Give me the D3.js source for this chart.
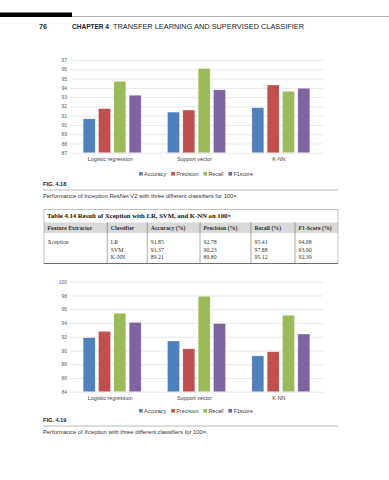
<!DOCTYPE html>
<html>
<head>
<meta charset="utf-8">
<script src="https://cdn.jsdelivr.net/npm/d3@7"></script>
<style>
  body { margin: 0; background: #fff; }
  svg { display: block; }
</style>
</head>
<body>
<div class="main"></div>
<script>
const categories = ["Logistic regression", "Support vector", "K-NN"]
const metrics = ["Accuracy", "Precision", "Recall", "F1score"]
const colors = ["#4f81bd", "#c0504d", "#9bbb59", "#8064a2"]

// Fig 4.18 - Inception ResNet V2
const inceptionValues = [
    [90.65, 91.75, 94.68, 93.2],
    [91.38, 91.6, 96.08, 93.78],
    [91.85, 94.3, 93.62, 93.95]
]
const inceptionTicks = [87, 88, 89, 90, 91, 92, 93, 94, 95, 96, 97]

// Table 4.14 / Fig 4.19 - Xception
const tableClassifiers = ["LR", "SVM", "K-NN"]
const tableHeaders = ["Feature Extractor", "Classifier", "Accuracy (%)", "Precision (%)", "Recall (%)", "F1-Score (%)"]
const xceptionValues = [
    [91.85, 92.78, 95.41, 94.08],
    [91.37, 90.23, 97.88, 93.90],
    [89.21, 89.80, 95.12, 92.39]
]
const xceptionTicks = [84, 86, 88, 90, 92, 94, 96, 98, 100]

const W = 389, H = 480
const svg = d3.select(".main").append("svg")
    .attr("width", W).attr("height", H)

const sans = "'Liberation Sans', Arial, sans-serif"
const serif = "'Liberation Serif', 'Times New Roman', serif"

// page header
svg.append("rect").attr("x", 0).attr("y", 12.5).attr("width", 72).attr("height", 4.5).attr("fill", "#000")
svg.append("line").attr("x1", 72).attr("x2", W).attr("y1", 16.5).attr("y2", 16.5)
    .attr("stroke", "#8c8c8c").attr("stroke-width", 0.7)
svg.append("text").attr("x", 39).attr("y", 28.5).attr("font-family", sans).attr("font-size", 7.4)
    .attr("font-weight", "bold").attr("fill", "#222").text("76")
svg.append("text").attr("x", 72).attr("y", 28.5).attr("font-family", sans).attr("font-size", 7.4)
    .attr("font-weight", "bold").attr("fill", "#222").attr("textLength", 37).attr("lengthAdjust", "spacingAndGlyphs")
    .text("CHAPTER 4")
svg.append("text").attr("x", 113).attr("y", 28.5).attr("font-family", sans).attr("font-size", 7.4)
    .attr("fill", "#222").attr("textLength", 191).attr("lengthAdjust", "spacingAndGlyphs")
    .text("TRANSFER LEARNING AND SUPERVISED CLASSIFIER")

function barChart(values, ticks, top, bottom, catY, legendY) {
    const g = svg.append("g")
    const y = d3.scaleLinear().domain([ticks[0], ticks[ticks.length - 1]]).range([bottom, top])
    const x0 = d3.scaleBand().domain(categories).range([70, 323]).padding(0)
    const x1 = d3.scaleBand().domain(metrics).range([0, x0.bandwidth()])
        .paddingInner(0.22).paddingOuter(0.86)

    const axis = g.append("g").attr("transform", "translate(70,0)")
        .call(d3.axisLeft(y).tickValues(ticks).tickSize(-253).tickPadding(3))
    axis.select(".domain").remove()
    axis.selectAll(".tick line").attr("stroke", "#d9d9d9").attr("stroke-width", 0.6)
    axis.selectAll(".tick text").attr("font-family", sans).attr("font-size", 5).attr("fill", "#595959")

    g.selectAll(".grp").data(values).join("g")
        .attr("transform", (d, i) => `translate(${x0(categories[i])},0)`)
        .selectAll("rect").data(d => d).join("rect")
        .attr("x", (d, j) => x1(metrics[j]))
        .attr("width", x1.bandwidth())
        .attr("y", d => y(d))
        .attr("height", d => y(ticks[0]) - y(d))
        .attr("fill", (d, j) => colors[j])
        .attr("stroke", "#fff").attr("stroke-opacity", 0.5).attr("stroke-width", 0.5)

    g.selectAll(".cat").data(categories).join("text")
        .attr("x", d => x0(d) + x0.bandwidth() / 2 - 2)
        .attr("y", catY).attr("text-anchor", "middle")
        .attr("font-family", sans).attr("font-size", 5.4).attr("fill", "#404040")
        .text(d => d)

    // legend
    const lg = g.append("g")
    let lx = 0
    metrics.forEach((m, i) => {
        lg.append("rect").attr("x", lx).attr("y", legendY - 2).attr("width", 3.6).attr("height", 3.6).attr("fill", colors[i])
        const t = lg.append("text").attr("x", lx + 5).attr("y", legendY + 1.8)
            .attr("font-family", sans).attr("font-size", 5.4).attr("fill", "#404040").text(m)
        lx += 5 + t.node().getComputedTextLength() + 5
    })
    lg.attr("transform", `translate(${196 - (lx - 5) / 2},0)`)
}

function figCaption(label, text, yLabel) {
    svg.append("text").attr("x", 43).attr("y", yLabel).attr("font-family", sans).attr("font-size", 5.6)
        .attr("font-weight", "bold").attr("fill", "#222").text(label)
    svg.append("line").attr("x1", 43).attr("x2", 338).attr("y1", yLabel + 4).attr("y2", yLabel + 4)
        .attr("stroke", "#8c8c8c").attr("stroke-width", 0.6)
    svg.append("text").attr("x", 43).attr("y", yLabel + 11.5).attr("font-family", sans).attr("font-size", 5.8)
        .attr("fill", "#333").text(text)
}

barChart(inceptionValues, inceptionTicks, 60, 152.7, 161, 174)
figCaption("FIG. 4.18", "Performance of Inception ResNet V2 with three different classifiers for 100\u00d7.", 186)

// table
const tb = svg.append("g")
const tL = 44, tR = 338, tTop = 209.5, hTop = 222.5, hBot = 233, tBot = 263.5
const colX = [44, 107.3, 147.3, 200, 251, 295]
tb.append("rect").attr("x", tL).attr("y", hTop).attr("width", tR - tL).attr("height", hBot - hTop).attr("fill", "#d9d9d9")
tb.append("rect").attr("x", tL).attr("y", tTop).attr("width", tR - tL).attr("height", tBot - tTop)
    .attr("fill", "none").attr("stroke", "#9a9a9a").attr("stroke-width", 0.6)
tb.append("line").attr("x1", tL).attr("x2", tR).attr("y1", tBot).attr("y2", tBot).attr("stroke", "#555").attr("stroke-width", 0.8)
tb.selectAll(".vl").data(colX.slice(1)).join("line")
    .attr("x1", d => d).attr("x2", d => d).attr("y1", hTop).attr("y2", tBot)
    .attr("stroke", "#555").attr("stroke-width", 0.5)
tb.append("text").attr("x", 47).attr("y", 217.5).attr("font-family", serif).attr("font-weight", "bold")
    .attr("font-size", 6.7).attr("fill", "#111").text("Table 4.14  Result of Xception with LR, SVM, and K-NN on 100\u00d7")
tb.selectAll(".th").data(tableHeaders).join("text")
    .attr("x", (d, i) => colX[i] + 3.5).attr("y", 230)
    .attr("font-family", serif).attr("font-weight", "bold").attr("font-size", 5.8).attr("fill", "#333")
    .text(d => d)
const rowY = [244, 251.6, 259.2]
tb.append("text").attr("x", colX[0] + 3.5).attr("y", rowY[0]).attr("font-family", serif)
    .attr("font-size", 5.8).attr("fill", "#333").text("Xception")
tableClassifiers.forEach((c, r) => {
    const row = [c].concat(xceptionValues[r].map(v => v.toFixed(2)))
    tb.selectAll(".r" + r).data(row).join("text")
        .attr("x", (d, i) => colX[i + 1] + 3.5).attr("y", rowY[r])
        .attr("font-family", serif).attr("font-size", 5.8).attr("fill", "#333")
        .text(d => d)
})

barChart(xceptionValues, xceptionTicks, 281.7, 391.7, 399.8, 411)
figCaption("FIG. 4.19", "Performance of Xception with three different classifiers for 100\u00d7.", 422)
</script>
</body>
</html>
